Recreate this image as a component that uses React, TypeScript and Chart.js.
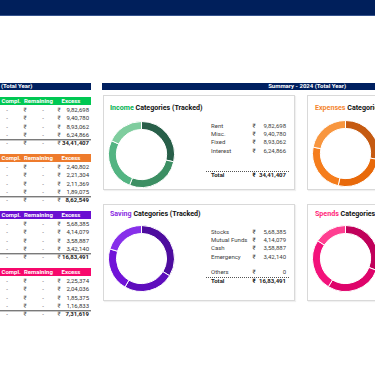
import React, { useEffect, useRef } from 'react';
import { Chart, registerables } from 'chart.js';

Chart.register(...registerables);

// ---------- DATA ----------
const incomeCategories = ['Rent', 'Misc.', 'Fixed', 'Interest'];
const incomeValues = [982698, 940780, 893062, 624866];
const incomeTotal = 3441407;

const expenseCategories = ['Rent', 'Food', 'Utilities', 'Travel'];
const expenseValues = [240802, 221304, 211369, 189075];
const expenseTotal = 862549;

const savingCategories = ['Stocks', 'Mutual Funds', 'Cash', 'Emergency', 'Others'];
const savingValues = [568385, 414079, 358887, 342140, 0];
const savingTotal = 1683491;

const spendsCategories = ['Shopping', 'Dining', 'Fun', 'Misc.'];
const spendsValues = [225374, 204036, 185375, 116833];
const spendsTotal = 731619;

const tableHeaders = ['Compl.', 'Remaining', 'Excess'];

// ---------- STYLE ----------
const FONT = "'Liberation Sans Narrow', Roboto, 'Liberation Sans', sans-serif";
const NAVY = '#002060';

const incomeColors = ['#285f49', '#3c8f63', '#53b482', '#7fcd9e'];
const expenseColors = ['#c55a11', '#e8690a', '#f57d1c', '#f8963f'];
const savingColors = ['#4d0c9e', '#5e0dbd', '#7113d8', '#8730ea', '#bbbbbb'];
const spendsColors = ['#c0005a', '#de046b', '#f3127b', '#ff3f91'];

function fmtINR(n: number): string {
  const s = Math.round(n).toString();
  if (s.length <= 3) return s;
  const last3 = s.slice(-3);
  let rest = s.slice(0, -3);
  const parts: string[] = [];
  while (rest.length > 2) {
    parts.unshift(rest.slice(-2));
    rest = rest.slice(0, -2);
  }
  if (rest.length) parts.unshift(rest);
  return parts.join(',') + ',' + last3;
}

type TProps = {
  x: number;
  y: number;
  children: React.ReactNode;
  align?: 'left' | 'right' | 'center';
  size?: number;
  bold?: boolean;
  color?: string;
};

function T({ x, y, children, align = 'left', size = 6, bold = false, color = '#333' }: TProps) {
  const h = 10;
  const style: React.CSSProperties = {
    position: 'absolute',
    top: y - h / 2,
    height: h,
    lineHeight: h + 'px',
    fontSize: size,
    fontWeight: bold ? 700 : 400,
    color,
    whiteSpace: 'nowrap',
    fontFamily: FONT,
  };
  if (align === 'left') style.left = x;
  else if (align === 'right') style.right = 375 - x;
  else {
    style.left = x - 50;
    style.width = 100;
    style.textAlign = 'center';
  }
  return <div style={style}>{children}</div>;
}

function Donut({ values, labels, colors, left, top, size }: { values: number[]; labels: string[]; colors: string[]; left: number; top: number; size: number }) {
  const ref = useRef<HTMLCanvasElement>(null);
  useEffect(() => {
    const chart = new Chart(ref.current!, {
      type: 'doughnut',
      data: {
        labels,
        datasets: [
          {
            data: values,
            backgroundColor: colors,
            borderColor: '#ffffff',
            borderWidth: 1,
          },
        ],
      },
      options: {
        responsive: false,
        animation: false,
        cutout: '76%',
        layout: { padding: 0 },
        plugins: { legend: { display: false }, tooltip: { enabled: false } },
      },
    });
    return () => chart.destroy();
  }, []);
  return (
    <canvas
      ref={ref}
      width={size}
      height={size}
      style={{ position: 'absolute', left, top, width: size, height: size }}
    />
  );
}

function LeftBlock({ top, color, values, total }: { top: number; color: string; values: number[]; total: number }) {
  const rows = values.map((v, i) => {
    const y = top + 9 + i * 8.3;
    return (
      <React.Fragment key={i}>
        <T x={7} y={y} align="center" color="#555">-</T>
        <T x={25} y={y} align="center" color="#555">₹</T>
        <T x={43} y={y} align="center" color="#555">-</T>
        <T x={59} y={y} align="center" color="#555">₹</T>
        <T x={89} y={y} align="right">{fmtINR(v)}</T>
      </React.Fragment>
    );
  });
  const ty = top + 42;
  return (
    <>
      <div style={{ position: 'absolute', left: 0, top: top - 3.8, width: 91, height: 7.6, background: color }} />
      <T x={1.5} y={top} bold color="#fff">{tableHeaders[0]}</T>
      <T x={24} y={top} bold color="#fff">{tableHeaders[1]}</T>
      <T x={71} y={top} align="center" bold color="#fff">{tableHeaders[2]}</T>
      {rows}
      <div style={{ position: 'absolute', left: 0, top: top + 37.6, width: 91, height: 0, borderTop: '1px solid #7a7a7a', borderBottom: '1px solid #c8c8c8' }} />
      <T x={7} y={ty} align="center" color="#555">-</T>
      <T x={25} y={ty} align="center" color="#555">₹</T>
      <T x={43} y={ty} align="center" color="#555">-</T>
      <T x={59} y={ty} align="center" color="#555">₹</T>
      <T x={89} y={ty} align="right" bold color="#222">{fmtINR(total)}</T>
    </>
  );
}

function Card({ left, top, width, height }: { left: number; top: number; width: number; height: number }) {
  return (
    <div
      style={{
        position: 'absolute',
        left,
        top,
        width,
        height,
        boxSizing: 'border-box',
        border: '1px solid #d9d9d9',
        boxShadow: '1px 1px 1px rgba(0,0,0,0.06)',
        background: '#fff',
      }}
    />
  );
}

function Title({ x, y, word, color }: { x: number; y: number; word: string; color: string }) {
  return (
    <T x={x} y={y} size={7.1} bold color="#111">
      <span style={{ color }}>{word}</span> Categories (Tracked)
    </T>
  );
}

function List({ top, labels, values, totalY, lineY, total, extraRows }: { top: number; labels: string[]; values: number[]; totalY: number; lineY: number; total: number; extraRows?: { y: number; label: string; value: number }[] }) {
  return (
    <>
      {labels.map((l, i) => {
        const y = top + i * 8.2;
        return (
          <React.Fragment key={l}>
            <T x={211} y={y} color="#404040">{l}</T>
            <T x={254} y={y} align="center" color="#404040">₹</T>
            <T x={286} y={y} align="right" color="#404040">{fmtINR(values[i])}</T>
          </React.Fragment>
        );
      })}
      {(extraRows || []).map((r) => (
        <React.Fragment key={r.label}>
          <T x={211} y={r.y} color="#404040">{r.label}</T>
          <T x={254} y={r.y} align="center" color="#404040">₹</T>
          <T x={286} y={r.y} align="right" color="#404040">{fmtINR(r.value)}</T>
        </React.Fragment>
      ))}
      <div style={{ position: 'absolute', left: 206, top: lineY, width: 83, height: 0, borderTop: '1px dotted #555' }} />
      <T x={211} y={totalY} bold color="#222">Total</T>
      <T x={254} y={totalY} align="center" bold color="#222">₹</T>
      <T x={286} y={totalY} align="right" bold color="#222">{fmtINR(total)}</T>
    </>
  );
}

export default function App() {
  return (
    <div
      style={{
        position: 'fixed',
        left: 0,
        top: 0,
        width: 375,
        height: 375,
        overflow: 'hidden',
        background: '#fff',
        fontFamily: FONT,
      }}
    >
      {/* top banner */}
      <div style={{ position: 'absolute', left: 0, top: 0, width: 375, height: 15, background: '#001f5b' }} />
      <div style={{ position: 'absolute', left: 0, top: 15, width: 375, height: 1, background: '#34528c' }} />

      {/* section headers */}
      <div style={{ position: 'absolute', left: 0, top: 82.5, width: 91, height: 7.5, background: NAVY }} />
      <T x={1} y={86.2} bold color="#fff">(Total Year)</T>
      <div style={{ position: 'absolute', left: 102, top: 82.5, width: 273, height: 7.5, background: NAVY }} />
      <T x={346} y={86.2} align="right" bold color="#fff">Summary - 2024 (Total Year)</T>

      {/* left tables */}
      <LeftBlock top={101} color="#00c853" values={incomeValues} total={incomeTotal} />
      <LeftBlock top={158} color="#ee7b2c" values={expenseValues} total={expenseTotal} />
      <LeftBlock top={215} color="#6a0fd1" values={savingValues.slice(0, 4)} total={savingTotal} />
      <LeftBlock top={272} color="#f7086c" values={spendsValues} total={spendsTotal} />

      {/* cards */}
      <Card left={103} top={94.5} width={192} height={95} />
      <Card left={307} top={94.5} width={80} height={95} />
      <Card left={103} top={203.5} width={192} height={97} />
      <Card left={307} top={203.5} width={80} height={97} />

      <Title x={110} y={108} word="Income" color="#00b050" />
      <Title x={315} y={108} word="Expenses" color="#f4862f" />
      <Title x={110} y={214} word="Saving" color="#8a2be2" />
      <Title x={315} y={214} word="Spends" color="#ff1f7a" />

      <Donut values={incomeValues} labels={incomeCategories} colors={incomeColors} left={108} top={121} size={67} />
      <Donut values={expenseValues} labels={expenseCategories} colors={expenseColors} left={312} top={120} size={67} />
      <Donut values={savingValues} labels={savingCategories} colors={savingColors} left={108} top={225} size={67} />
      <Donut values={spendsValues} labels={spendsCategories} colors={spendsColors} left={312} top={225} size={67} />

      <List top={126} labels={incomeCategories} values={incomeValues} totalY={175} lineY={170.5} total={incomeTotal} />
      <List
        top={232}
        labels={savingCategories.slice(0, 4)}
        values={savingValues}
        totalY={281}
        lineY={276.5}
        total={savingTotal}
        extraRows={[{ y: 272, label: savingCategories[4], value: savingValues[4] }]}
      />
    </div>
  );
}
